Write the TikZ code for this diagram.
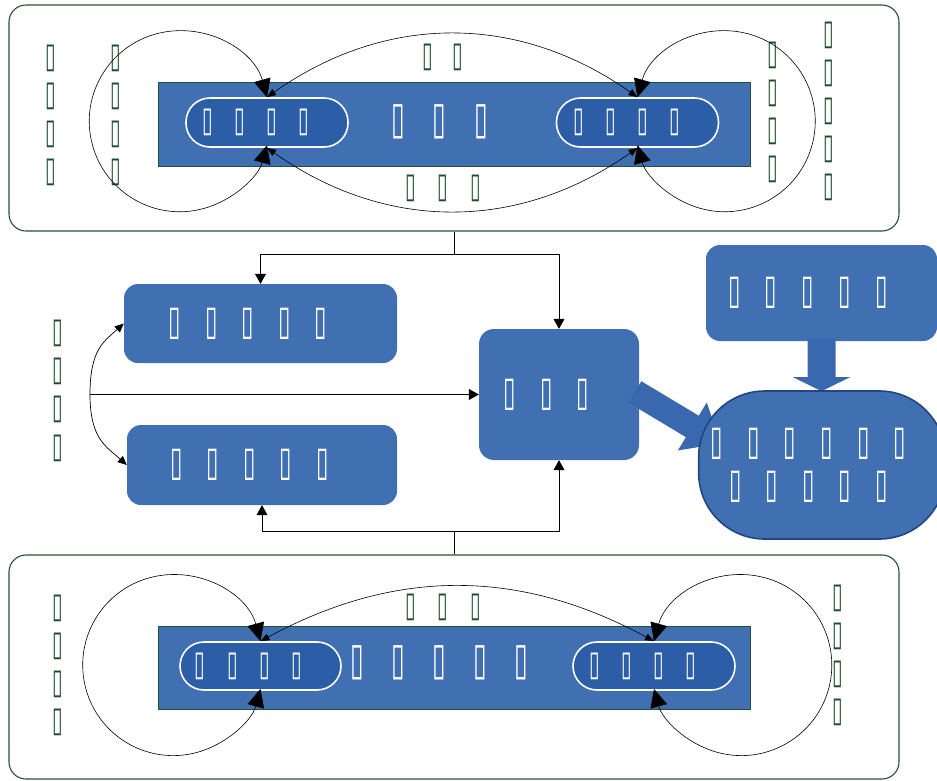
\documentclass[tikz,border=0pt]{standalone}
\usepackage{fontspec}
\usetikzlibrary{arrows.meta,calc}
\newfontfamily\tofu[FakeStretch=0.55]{DejaVu Sans}
\definecolor{framegreen}{RGB}{38,80,52}
\definecolor{labelgreen}{RGB}{28,76,42}
\definecolor{panelblue}{RGB}{64,112,178}
\definecolor{pillblue}{RGB}{43,94,166}
\definecolor{rimblue}{RGB}{34,70,128}
\definecolor{arrowblue}{RGB}{58,104,174}
% one placeholder glyph, a row of them at a fixed pitch, a column at a fixed line pitch
\newcommand\tg{\char"25AF\relax}
\newcommand\trow[2]{\foreach \k in {1,...,#1}{\makebox[#2]{\tg}}}
\newcommand\tcol[2]{\vbox{\baselineskip=#2\relax\lineskiplimit=-100pt\foreach \k in {1,...,#1}{\hbox{\tg}}}}
\newcommand\lblfont{\tofu\fontsize{35}{35}\selectfont}
\newcommand\pillfont{\tofu\fontsize{35}{35}\selectfont}
\newcommand\midfont{\tofu\fontsize{45}{45}\selectfont}
\newcommand\boxfont{\tofu\fontsize{41}{43}\selectfont}
\begin{document}
\begin{tikzpicture}[x=1pt,y=-1pt,
  outerbox/.style={draw=framegreen, line width=1.1pt, rounded corners=17pt, inner sep=0pt},
  bar/.style={fill=panelblue, draw=framegreen, line width=0.6pt, inner sep=0pt},
  pill/.style={fill=pillblue, draw=white, line width=1.6pt, rounded corners=24pt,
    minimum width=162pt, minimum height=49pt, inner sep=0pt, text=white, font=\pillfont},
  box/.style={fill=panelblue, rounded corners=14pt, inner sep=0pt, text=white, font=\boxfont},
  lbl/.style={text=labelgreen, font=\lblfont, inner sep=0pt},
  bartext/.style={text=white, font=\midfont, inner sep=0pt},
  loopline/.style={line width=0.6pt, {Triangle[length=18pt,width=17pt]}-{Triangle[length=18pt,width=17pt]}},
  bigarc/.style={line width=0.6pt, {Triangle[length=9pt,width=7pt]}-{Triangle[length=9pt,width=7pt]}},
  conn/.style={line width=0.7pt},
  flow/.style={conn, -{Triangle[length=10pt,width=11pt]}},
]
\useasboundingbox (0,0) rectangle (937,780);

% ---------- upper panel ----------
\node[outerbox, minimum width=890pt, minimum height=226pt] (top) at (454,118) {};
\node[bar, minimum width=592pt, minimum height=84pt] (barT) at (454,124) {};
\node[bartext] (barTtext) at (439.5,121.5) {\trow{3}{41.5pt}};
\node[pill] (pTL) at (267,122.5) {\trow{4}{32pt}\hspace*{22pt}};
\node[pill] (pTR) at (637.5,122.5) {\trow{4}{32pt}\hspace*{22pt}};

\node[lbl] (tl1) at (51,115) {\tcol{4}{38pt}};
\node[lbl] (tl2) at (116,115) {\tcol{4}{38pt}};
\node[lbl] (tarcA) at (443,57) {\trow{2}{30pt}};
\node[lbl] (tarcB) at (443,188) {\trow{3}{32.5pt}};
\node[lbl] (tr1) at (773,112) {\tcol{4}{38pt}};
\node[lbl] (tr2) at (829,111) {\tcol{5}{38pt}};

\draw[loopline] (pTL.north) arc[start angle=-15.4, end angle=-344.6, radius=90.5];
\draw[loopline] (pTR.north) arc[start angle=-164.6, end angle=164.6, radius=90.5];
\draw[bigarc] (pTL.north) .. controls +(119,-84) and +(-119,-84) .. (pTR.north);
\draw[bigarc] (pTL.south) .. controls +(119,84) and +(-119,84) .. (pTR.south);

% ---------- lower panel ----------
\node[outerbox, minimum width=890pt, minimum height=224pt] (bottom) at (454,667) {};
\node[bar, minimum width=592pt, minimum height=83pt] (barB) at (454,667.5) {};
\node[bartext] (barBtext) at (439,663) {\trow{5}{41pt}};
\node[pill, minimum width=161pt, minimum height=48pt] (pBL) at (260.5,666) {\trow{4}{32.3pt}\hspace*{24pt}};
\node[pill, minimum width=162pt, minimum height=48pt] (pBR) at (654,666) {\trow{4}{32pt}\hspace*{23pt}};

\node[lbl] (bl1) at (58,665) {\tcol{4}{38pt}};
\node[lbl] (barc) at (443,607) {\trow{3}{32.5pt}};
\node[lbl] (br1) at (838,655) {\tcol{4}{38pt}};

\draw[loopline] (pBL.north) arc[start angle=-15.3, end angle=-344.7, radius=90.5];
\draw[loopline] (pBR.north) arc[start angle=-164.7, end angle=164.7, radius=90.5];
\draw[bigarc] (pBL.north) .. controls +(135,-73) and +(-135,-73) .. (pBR.north);

% ---------- middle blocks ----------
\node[box, minimum width=273pt, minimum height=79pt] (boxA) at (260.5,323.5) {\trow{5}{36.5pt}\hspace*{25pt}};
\node[box, minimum width=270pt, minimum height=80pt] (boxB) at (262,465) {\trow{5}{36.5pt}\hspace*{25pt}};
\node[box, minimum width=160pt, minimum height=131pt, rounded corners=15pt] (boxC) at (559,394.5) {\trow{3}{36.5pt}\hspace*{25pt}};
\node[box, minimum width=231pt, minimum height=96pt] (boxD) at (821.5,293) {\trow{5}{36.8pt}\hspace*{27pt}};

% block arrows into the result block
\begin{scope}[shift={(boxC.east)}, rotate=-31]
  \fill[arrowblue] (-5,-12.5) -- (62,-12.5) -- (62,-28) -- (95,0) -- (62,28) -- (62,12.5) -- (-5,12.5) -- cycle;
\end{scope}
\begin{scope}[shift={(boxD.south)}]
  \fill[arrowblue] (-14,-3) -- (14,-3) -- (14,36) -- (28.5,36) -- (0,50) -- (-28.5,36) -- (-14,36) -- cycle;
\end{scope}

\node[box, draw=rimblue, line width=1.6pt, rounded corners=66pt, minimum width=246pt,
  minimum height=148pt, align=center] (boxE) at (822,465)
  {\trow{6}{36.6pt}\hspace*{27pt}\\\trow{5}{36.6pt}\hspace*{27pt}};

\node[lbl] (ml) at (58,390.5) {\tcol{4}{38.3pt}};
\coordinate (src) at (90,394.5);

\coordinate (j1) at (454,254);
\draw[conn] (top.south) -- (j1);
\draw[flow] (j1) -| (boxA.north);
\draw[flow] (j1) -| (boxC.north);

\coordinate (j2) at (454,531);
\draw[conn] (bottom.north) -- (j2);
\draw[flow] (j2) -| (boxB.south);
\draw[flow] (j2) -| (boxC.south);

\draw[flow] (src) -- (boxC.west);
\draw[conn, -{Triangle[length=9pt,width=8pt]}] (src) .. controls +(0,-45) and +(-20,18) .. (boxA.west);
\draw[conn, -{Triangle[length=9pt,width=8pt]}] (src) .. controls +(0,45) and +(-20,-18) .. (boxB.west);
\end{tikzpicture}
\end{document}
